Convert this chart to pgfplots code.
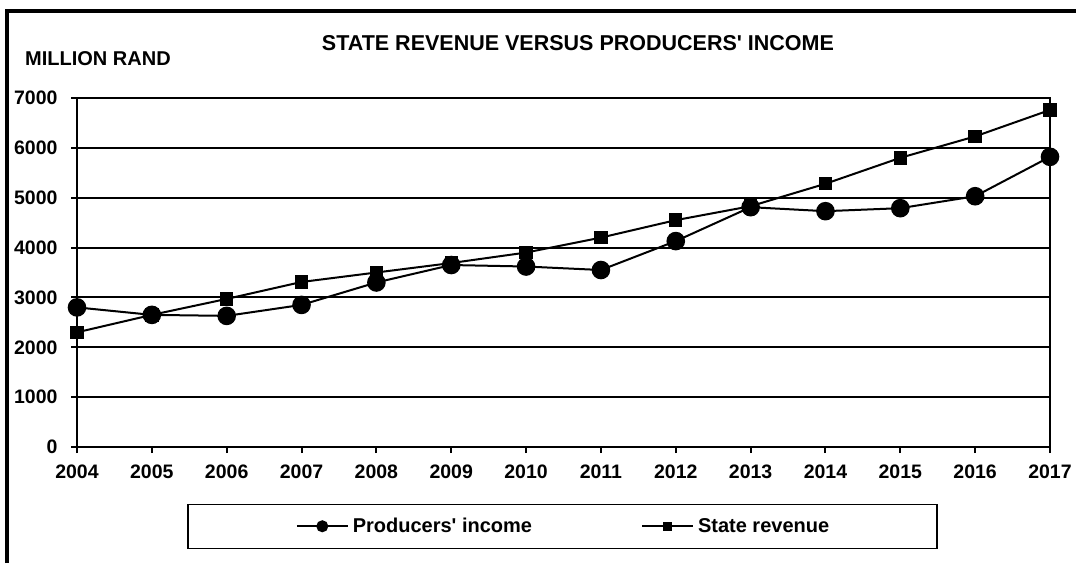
\documentclass[border=0pt]{standalone}
\usepackage{fontspec}
\setmainfont{Liberation Sans}
\usepackage{pgfplots}
\pgfplotsset{compat=1.18}
\newcommand{\lblfont}{\bfseries\fontsize{20}{24}\selectfont}
\newcommand{\tickfont}{\bfseries\fontsize{19.5}{23}\selectfont}
\newcommand{\titlefont}{\bfseries\fontsize{21.5}{26}\selectfont}

\begin{document}
\begin{tikzpicture}
\useasboundingbox (0pt,0pt) rectangle (1076pt,563pt);
% outer chart frame (left and top edges are in view)
\draw[line width=4pt] (7pt,0pt) -- (7pt,551.5pt) -- (1076pt,551.5pt);
\node[font=\titlefont] at (578pt,519.5pt) {STATE REVENUE VERSUS PRODUCERS\textquotesingle\ INCOME};
\node[anchor=west, inner sep=0pt, font=\lblfont] at (25pt,504.5pt) {MILLION RAND};

\begin{axis}[
    at={(77pt,116pt)}, anchor=south west,
    scale only axis,
    width=973pt, height=349pt,
    xmin=2004, xmax=2017,
    ymin=0, ymax=7000,
    xtick={2004,2005,...,2017},
    ytick={0,1000,...,7000},
    xtick pos=bottom, ytick pos=left,
    tick align=outside,
    major tick length=6pt,
    tick style={line width=2pt, black},
    axis line style={line width=2.5pt},
    ymajorgrids=true,
    grid style={line width=2pt, black},
    ticklabel style={font=\tickfont},
    xticklabel style={yshift=-8pt},
    yticklabel style={xshift=-10pt},
    /pgf/number format/assume math mode=true,
    /pgf/number format/1000 sep={},
    clip=false,
    legend columns=2,
    reverse legend,
    legend style={
        at={(0.1131,-0.2923)}, anchor=south west,
        draw=black, line width=1.5pt,
        inner xsep=108pt, inner ysep=14pt,
        font=\lblfont,
        nodes={inner sep=0pt},
        /tikz/every odd column/.append style={column sep=4pt},
        /tikz/every even column/.append style={column sep=109pt},
    },
    legend image code/.code={
        \draw[mark repeat=2, mark phase=2, #1, every mark/.append style={scale=0.6}]
            plot coordinates {(0pt,0pt) (25.5pt,0pt) (51pt,0pt)};
    },
]
\addplot[black, line width=2pt, mark=square*, mark size=5.7pt, mark options={solid, fill=black}] coordinates {
    (2004,2300) (2005,2650) (2006,2970) (2007,3310) (2008,3500) (2009,3690) (2010,3900)
    (2011,4200) (2012,4550) (2013,4830) (2014,5280) (2015,5800) (2016,6230) (2017,6760)
};
\addlegendentry{State revenue}
\addplot[black, line width=2pt, mark=*, mark size=8.3pt, mark options={solid, fill=black}] coordinates {
    (2004,2800) (2005,2650) (2006,2630) (2007,2850) (2008,3300) (2009,3650) (2010,3620)
    (2011,3550) (2012,4130) (2013,4810) (2014,4730) (2015,4790) (2016,5030) (2017,5820)
};
\addlegendentry{Producers\textquotesingle\ income}
\end{axis}
\end{tikzpicture}
\end{document}
